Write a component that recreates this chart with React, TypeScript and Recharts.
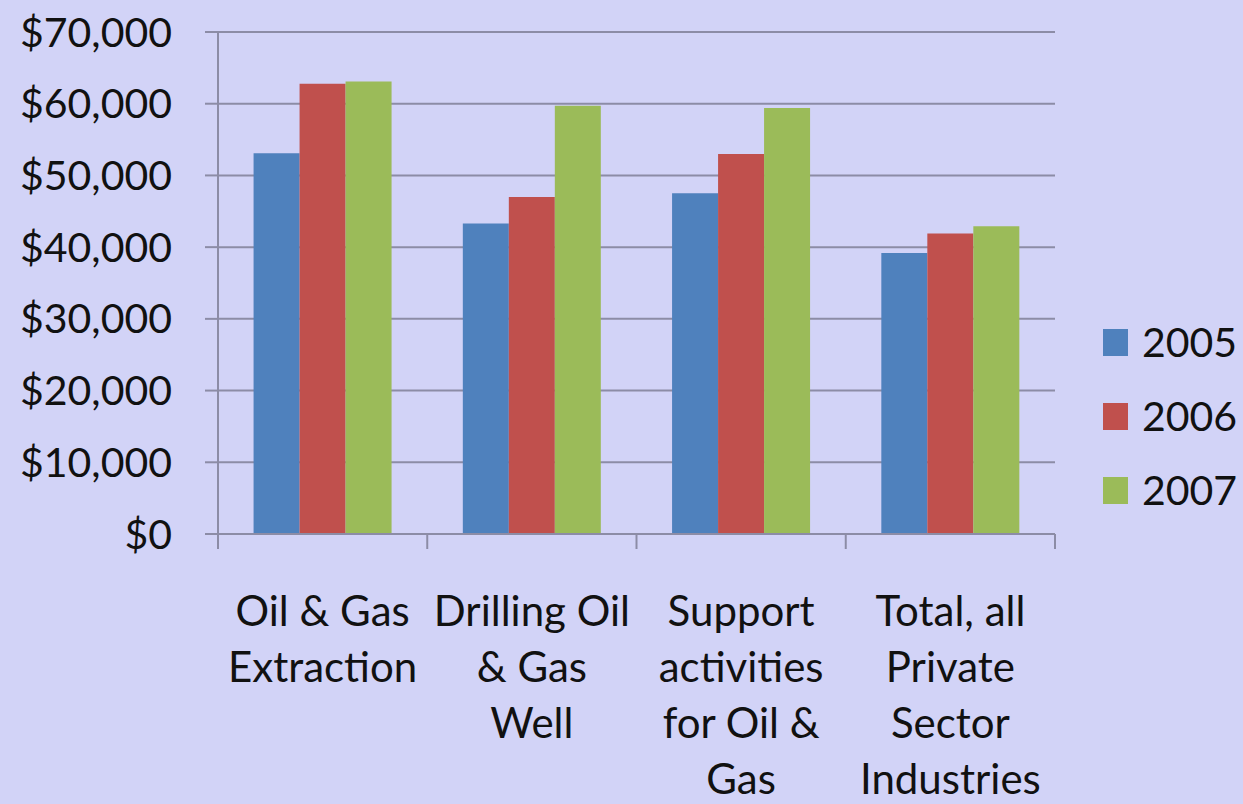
import React from 'react';
import { BarChart, Bar, XAxis, YAxis, CartesianGrid } from 'recharts';

const categories = [
  'Oil & Gas\nExtraction',
  'Drilling Oil\n& Gas\nWell',
  'Support\nactivities\nfor Oil &\nGas',
  'Total, all\nPrivate\nSector\nIndustries',
];
const series2005 = [53100, 43300, 47500, 39200];
const series2006 = [62800, 47000, 53000, 41900];
const series2007 = [63100, 59700, 59400, 42900];
const years = ['2005', '2006', '2007'];
const yTicks = [0, 10000, 20000, 30000, 40000, 50000, 60000, 70000];

const data = categories.map((name, i) => ({
  name,
  '2005': series2005[i],
  '2006': series2006[i],
  '2007': series2007[i],
}));

const W = 1243;
const H = 804;
const MARGIN = { top: 32, right: 188, bottom: 0, left: 0 };
const Y_WIDTH = 218;
const PLOT_H = 502;
const BAND = (W - MARGIN.right - Y_WIDTH) / categories.length;

const BG = '#D2D3F7';
const LINE = '#8C8CA6';
const FONT = "Lato, 'Open Sans', sans-serif";
const COLORS: Record<string, string> = {
  '2005': '#4F81BD',
  '2006': '#C0504D',
  '2007': '#9BBB59',
};

const CategoryTick = (props: any) => {
  const { x, y, payload, index } = props;
  const lines = String(payload.value).split('\n');
  const half = BAND / 2;
  return (
    <g>
      <line x1={x - half} x2={x - half} y1={y} y2={y + 15} stroke={LINE} strokeWidth={2} />
      {index === categories.length - 1 && (
        <line x1={x + half} x2={x + half} y1={y} y2={y + 15} stroke={LINE} strokeWidth={2} />
      )}
      <text x={x} y={y + 92} textAnchor="middle" fill="#111" fontSize={42} fontFamily={FONT}>
        {lines.map((l, i) => (
          <tspan key={i} x={x} dy={i === 0 ? 0 : 56}>
            {l}
          </tspan>
        ))}
      </text>
    </g>
  );
};

// legend sits to the right of the plot, outside the chart's own layout
const YearLegend = () => (
  <div style={{ position: 'absolute', left: 1103, top: 305, fontFamily: FONT }}>
    {years.map((yr) => (
      <div key={yr} style={{ display: 'flex', alignItems: 'center', height: 74 }}>
        <span style={{ width: 25, height: 27, backgroundColor: COLORS[yr], display: 'inline-block' }} />
        <span style={{ marginLeft: 14, fontSize: 41, color: '#111', lineHeight: '42px' }}>{yr}</span>
      </div>
    ))}
  </div>
);

export default function App() {
  return (
    <div style={{ position: 'absolute', left: 0, top: 0, width: W, height: H, background: BG }}>
      <BarChart width={W} height={H} data={data} margin={MARGIN} barCategoryGap="17%" barGap={0}>
        <CartesianGrid vertical={false} stroke={LINE} strokeWidth={2} />
        <XAxis
          dataKey="name"
          interval={0}
          height={H - MARGIN.top - PLOT_H}
          axisLine={{ stroke: LINE, strokeWidth: 2 }}
          tickLine={false}
          tickSize={0}
          tickMargin={0}
          tick={<CategoryTick />}
        />
        <YAxis
          width={Y_WIDTH}
          domain={[0, 70000]}
          ticks={yTicks}
          interval={0}
          axisLine={{ stroke: LINE, strokeWidth: 2 }}
          tickLine={{ stroke: LINE, strokeWidth: 2 }}
          tickSize={13}
          tickMargin={33}
          tickFormatter={(v: number) => `$${v.toLocaleString('en-US')}`}
          tick={{ fill: '#111', fontSize: 41, fontFamily: FONT }}
        />
        {years.map((yr) => (
          <Bar key={yr} dataKey={yr} fill={COLORS[yr]} isAnimationActive={false} />
        ))}
      </BarChart>
      <YearLegend />
    </div>
  );
}
